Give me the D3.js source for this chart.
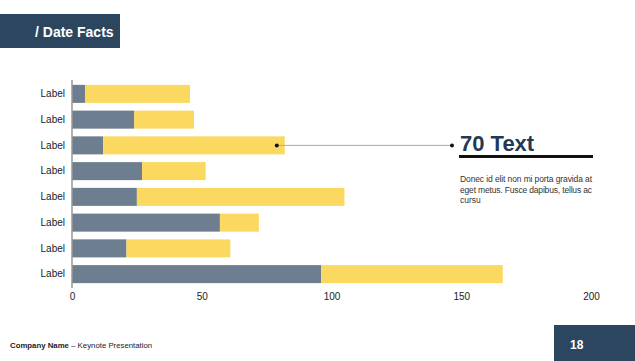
<!DOCTYPE html>
<html>
<head>
<meta charset="utf-8">
<script src="https://cdn.jsdelivr.net/npm/d3@7"></script>
<style>
  body { margin: 0; background: #fff; }
  svg { display: block; font-family: "Liberation Sans", Arial, sans-serif; }
  .tick text { font-size: 10px; fill: #222; }
</style>
</head>
<body>
<div id="chart"></div>
<script>
// chart values
var categories = ['Label1', 'Label2', 'Label3', 'Label4', 'Label5', 'Label6', 'Label7', 'Label8'];
var categoryLabels = ['Label', 'Label', 'Label', 'Label', 'Label', 'Label', 'Label', 'Label'];
var greyValues = [5, 24, 12, 27, 25, 57, 21, 96];
var yellowValues = [40.5, 23, 70, 24.5, 80, 15, 40, 70];
var xTicks = [0, 50, 100, 150, 200];
var calloutIndex = 2;
var calloutTitle = '70 Text';
var calloutLines = ['Donec id elit non mi porta gravida at', 'eget metus. Fusce dapibus, tellus ac', 'cursu'];

var width = 635, height = 361;
var margin = { left: 72, top: 81 };

var svg = d3.select('#chart').append('svg')
    .attr('width', width)
    .attr('height', height);

// title block
svg.append('rect')
    .attr('x', 0).attr('y', 14)
    .attr('width', 120).attr('height', 34)
    .attr('fill', '#2c4660');
svg.append('text')
    .attr('x', 35).attr('y', 37)
    .attr('fill', '#fff')
    .attr('font-size', 14)
    .attr('font-weight', 'bold')
    .text('/ Date Facts');

var xScale = d3.scaleLinear()
    .domain([0, 200])
    .range([0, 519]);

var yScale = d3.scaleBand()
    .domain(categories)
    .range([0, 206])
    .paddingInner(0.3)
    .paddingOuter(0.15);

var chartG = svg.append('g')
    .attr('transform', 'translate(' + margin.left + ',' + margin.top + ')');

var rows = categories.map(function(c, i) {
    return { cat: c, grey: greyValues[i], yellow: yellowValues[i] };
});

chartG.selectAll('rect.grey').data(rows).enter()
    .append('rect')
    .attr('class', 'grey')
    .attr('x', 0)
    .attr('y', function(d) { return yScale(d.cat); })
    .attr('width', function(d) { return xScale(d.grey); })
    .attr('height', yScale.bandwidth())
    .attr('fill', '#6c7e8f');

chartG.selectAll('rect.yellow').data(rows).enter()
    .append('rect')
    .attr('class', 'yellow')
    .attr('x', function(d) { return xScale(d.grey); })
    .attr('y', function(d) { return yScale(d.cat); })
    .attr('width', function(d) { return xScale(d.grey + d.yellow) - xScale(d.grey); })
    .attr('height', yScale.bandwidth())
    .attr('fill', '#fbd860');

// y axis
var yAxis = d3.axisLeft(yScale)
    .tickSize(0)
    .tickPadding(7)
    .tickFormat(function(d, i) { return categoryLabels[i]; });
var yG = chartG.append('g').call(yAxis);
yG.select('.domain').attr('stroke', '#999').attr('stroke-width', 1.5)
    .attr('d', 'M0,-1V207');

// x axis (labels only)
var xAxis = d3.axisBottom(xScale)
    .tickValues(xTicks)
    .tickSize(0)
    .tickPadding(6);
var xG = chartG.append('g')
    .attr('transform', 'translate(0,' + 206 + ')')
    .call(xAxis);
xG.select('.domain').remove();

// callout
var c = rows[calloutIndex];
var cy = yScale(c.cat) + yScale.bandwidth() / 2;
var dotX = xScale(c.grey + c.yellow) - 8;
var endX = 380;
chartG.append('line')
    .attr('x1', dotX).attr('x2', endX)
    .attr('y1', cy).attr('y2', cy)
    .attr('stroke', '#aaa').attr('stroke-width', 1);
chartG.selectAll('circle.dot').data([dotX, endX]).enter()
    .append('circle')
    .attr('cx', function(d) { return d; })
    .attr('cy', cy)
    .attr('r', 2)
    .attr('fill', '#111');

svg.append('text')
    .attr('x', 460).attr('y', 151)
    .attr('fill', '#1f3a57')
    .attr('font-size', 22)
    .attr('font-weight', 'bold')
    .text(calloutTitle);
svg.append('rect')
    .attr('x', 459).attr('y', 155)
    .attr('width', 134).attr('height', 3)
    .attr('fill', '#111');
svg.append('g').selectAll('text').data(calloutLines).enter()
    .append('text')
    .attr('x', 460)
    .attr('y', function(d, i) { return 182 + i * 10.5; })
    .attr('font-size', 8.5)
    .attr('fill', '#333')
    .attr('textLength', function(d, i) { return i < calloutLines.length - 1 ? 132 : null; })
    .attr('lengthAdjust', 'spacing')
    .text(function(d) { return d; });

// footer
var foot = svg.append('text')
    .attr('x', 10).attr('y', 348)
    .attr('font-size', 7.8)
    .attr('fill', '#222');
foot.append('tspan').attr('font-weight', 'bold').text('Company Name');
foot.append('tspan').text(' \u2013 Keynote Presentation');

svg.append('rect')
    .attr('x', 554).attr('y', 325)
    .attr('width', 81).attr('height', 36)
    .attr('fill', '#2c4660');
svg.append('text')
    .attr('x', 570).attr('y', 349)
    .attr('font-size', 12)
    .attr('font-weight', 'bold')
    .attr('fill', '#fff')
    .text('18');
</script>
</body>
</html>
